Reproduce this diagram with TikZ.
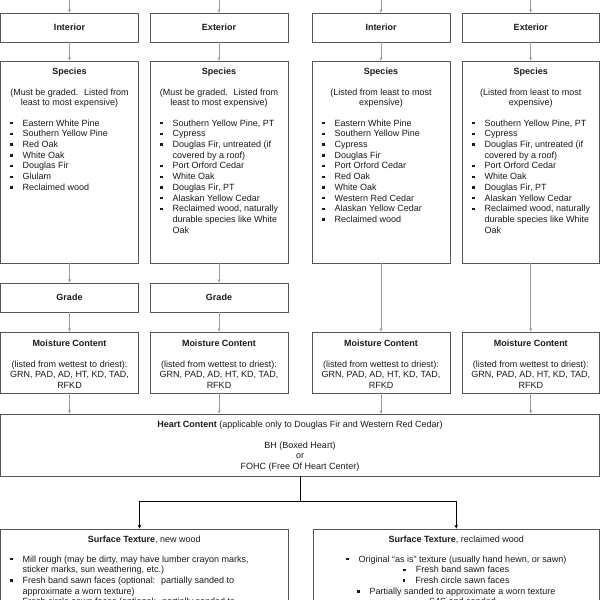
\documentclass[tikz,border=0pt]{standalone}
\usepackage{fontspec}
\setmainfont{Liberation Sans}
\usetikzlibrary{arrows.meta,calc}
\definecolor{boxc}{HTML}{555555}
\definecolor{arrc}{HTML}{9A9A9A}
\definecolor{txtc}{HTML}{1A1A1A}
\newcommand{\myblt}{\makebox[12.5pt][l]{\rule[1.7pt]{2.4pt}{2.4pt}}}
\newcommand{\myind}{\hspace*{12.5pt}}
\begin{document}
\begin{tikzpicture}[x=1pt,y=-1pt,
  box/.style={draw=boxc,line width=0.8pt,rectangle,inner sep=0pt},
  garr/.style={draw=arrc,line width=0.6pt,-{Stealth[length=3.5pt,width=3pt]}},
  barr/.style={draw=black,line width=0.7pt,-{Stealth[length=4pt,width=3.5pt]}},
  txt/.style={inner sep=0pt,text=txtc,font={\fontsize{9}{10.7}\selectfont}},
  ctxt/.style={txt,align=center,anchor=north},
  ltxt/.style={txt,align=left,anchor=north west}]
\useasboundingbox (0,0) rectangle (600,600);
\clip (0,0) rectangle (600,600);
\fill[white] (0,0) rectangle (600,600);

% top boxes
\node[box,minimum width=138pt,minimum height=29pt] (int1) at (69.5,27.5) {};
\node[box,minimum width=138pt,minimum height=29pt] (ext1) at (219,27.5) {};
\node[box,minimum width=138pt,minimum height=29pt] (int2) at (381,27.5) {};
\node[box,minimum width=137.5pt,minimum height=29pt] (ext2) at (530.75,27.5) {};
\node[txt,font={\fontsize{9}{10.7}\selectfont\bfseries}] (tint1) at (int1) {Interior};
\node[txt,font={\fontsize{9}{10.7}\selectfont\bfseries}] (text1) at (ext1) {Exterior};
\node[txt,font={\fontsize{9}{10.7}\selectfont\bfseries}] (tint2) at (int2) {Interior};
\node[txt,font={\fontsize{9}{10.7}\selectfont\bfseries}] (text2) at (ext2) {Exterior};

% species boxes
\node[box,minimum width=138pt,minimum height=202pt] (sp1) at (69.5,162) {};
\node[box,minimum width=138pt,minimum height=202pt] (sp2) at (219,162) {};
\node[box,minimum width=138pt,minimum height=202pt] (sp3) at (381,162) {};
\node[box,minimum width=137.5pt,minimum height=202pt] (sp4) at (530.75,162) {};

\node[ctxt] (sph1) at (69.5,67.4) {\textbf{Species}\\[10.3pt](Must be graded.~ Listed from\\least to most expensive)};
\node[ctxt] (sph2) at (219,67.4) {\textbf{Species}\\[10.3pt](Must be graded.~ Listed from\\least to most expensive)};
\node[ctxt] (sph3) at (381,67.4) {\textbf{Species}\\[10.3pt](Listed from least to most\\expensive)};
\node[ctxt] (sph4) at (530.75,67.4) {\textbf{Species}\\[10.3pt](Listed from least to most\\expensive)};

\node[ltxt] (spl1) at (10,119.4) {\myblt Eastern White Pine\\\myblt Southern Yellow Pine\\\myblt Red Oak\\\myblt White Oak\\\myblt Douglas Fir\\\myblt Glulam\\\myblt Reclaimed wood};
\node[ltxt] (spl2) at (160,119.4) {\myblt Southern Yellow Pine, PT\\\myblt Cypress\\\myblt Douglas Fir, untreated (if\\\myind covered by a roof)\\\myblt Port Orford Cedar\\\myblt White Oak\\\myblt Douglas Fir, PT\\\myblt Alaskan Yellow Cedar\\\myblt Reclaimed wood, naturally\\\myind durable species like White\\\myind Oak};
\node[ltxt] (spl3) at (322,119.4) {\myblt Eastern White Pine\\\myblt Southern Yellow Pine\\\myblt Cypress\\\myblt Douglas Fir\\\myblt Port Orford Cedar\\\myblt Red Oak\\\myblt White Oak\\\myblt Western Red Cedar\\\myblt Alaskan Yellow Cedar\\\myblt Reclaimed wood};
\node[ltxt] (spl4) at (472,119.4) {\myblt Southern Yellow Pine, PT\\\myblt Cypress\\\myblt Douglas Fir, untreated (if\\\myind covered by a roof)\\\myblt Port Orford Cedar\\\myblt White Oak\\\myblt Douglas Fir, PT\\\myblt Alaskan Yellow Cedar\\\myblt Reclaimed wood, naturally\\\myind durable species like White\\\myind Oak};

% grade boxes
\node[box,minimum width=138pt,minimum height=29pt] (gr1) at (69.5,297.5) {};
\node[box,minimum width=138pt,minimum height=29pt] (gr2) at (219,297.5) {};
\node[txt,font={\fontsize{9}{10.7}\selectfont\bfseries}] (tgr1) at (gr1) {Grade};
\node[txt,font={\fontsize{9}{10.7}\selectfont\bfseries}] (tgr2) at (gr2) {Grade};

% moisture boxes
\node[box,minimum width=138pt,minimum height=61pt] (mc1) at (69.5,362.5) {};
\node[box,minimum width=138pt,minimum height=61pt] (mc2) at (219,362.5) {};
\node[box,minimum width=138pt,minimum height=61pt] (mc3) at (381,362.5) {};
\node[box,minimum width=137.5pt,minimum height=61pt] (mc4) at (530.75,362.5) {};
\node[ctxt] (mct1) at (69.5,339.4) {\textbf{Moisture Content}\\[10.3pt](listed from wettest to driest):\\GRN, PAD, AD, HT, KD, TAD,\\RFKD};
\node[ctxt] (mct2) at (219,339.4) {\textbf{Moisture Content}\\[10.3pt](listed from wettest to driest):\\GRN, PAD, AD, HT, KD, TAD,\\RFKD};
\node[ctxt] (mct3) at (381,339.4) {\textbf{Moisture Content}\\[10.3pt](listed from wettest to driest):\\GRN, PAD, AD, HT, KD, TAD,\\RFKD};
\node[ctxt] (mct4) at (530.75,339.4) {\textbf{Moisture Content}\\[10.3pt](listed from wettest to driest):\\GRN, PAD, AD, HT, KD, TAD,\\RFKD};

% heart content
\node[box,minimum width=599pt,minimum height=62pt] (heart) at (300,445) {};
\node[ctxt] (heartt) at (300,420.9) {\textbf{Heart Content} (applicable only to Douglas Fir and Western Red Cedar)\\[9.8pt]BH (Boxed Heart)\\or\\FOHC (Free Of Heart Center)};

% surface texture
\node[box,minimum width=287.5pt,minimum height=100pt] (surfL) at (144.25,579) {};
\node[box,minimum width=286.5pt,minimum height=100pt] (surfR) at (456.25,579) {};
\node[ctxt] (surfLt) at (144.25,535.4) {\textbf{Surface Texture}, new wood};
\node[ctxt] (surfRt) at (456.25,535.4) {\textbf{Surface Texture}, reclaimed wood};
\node[ltxt] (surfLl) at (10,555.4) {\myblt Mill rough (may be dirty, may have lumber crayon marks,\\\myind sticker marks, sun weathering, etc.)\\\myblt Fresh band sawn faces (optional:~ partially sanded to\\\myind approximate a worn texture)\\\myblt Fresh circle sawn faces (optional:~ partially sanded to};
\node[ctxt] (surfRl) at (456.25,555.4) {\myblt Original “as is” texture (usually hand hewn, or sawn)\\\myblt Fresh band sawn faces\\\myblt Fresh circle sawn faces\\\myblt Partially sanded to approximate a worn texture\\\myblt S4S and sanded};

% top free ends
\coordinate (s1) at (69.5,0);
\coordinate (s2) at (219,0);
\coordinate (s3) at (381,0);
\coordinate (s4) at (530.75,0);
\draw[garr] (s1) -- (int1.north);
\draw[garr] (s2) -- (ext1.north);
\draw[garr] (s3) -- (int2.north);
\draw[garr] (s4) -- (ext2.north);
\draw[garr] (int1.south) -- (sp1.north);
\draw[garr] (ext1.south) -- (sp2.north);
\draw[garr] (int2.south) -- (sp3.north);
\draw[garr] (ext2.south) -- (sp4.north);
\draw[garr] (sp1.south) -- (gr1.north);
\draw[garr] (sp2.south) -- (gr2.north);
\draw[garr] (sp3.south) -- (mc3.north);
\draw[garr] (sp4.south) -- (mc4.north);
\draw[garr] (gr1.south) -- (mc1.north);
\draw[garr] (gr2.south) -- (mc2.north);
\draw[garr] (mc1.south) -- (mc1.south |- heart.north);
\draw[garr] (mc2.south) -- (mc2.south |- heart.north);
\draw[garr] (mc3.south) -- (mc3.south |- heart.north);
\draw[garr] (mc4.south) -- (mc4.south |- heart.north);

% black connectors
\coordinate (hj) at (300,501);
\draw[line width=0.7pt] (heart.south) -- (hj);
\draw[barr] (hj) -| ([xshift=-4.75pt]surfL.north);
\draw[barr] (hj) -| (surfR.north);
\end{tikzpicture}
\end{document}
